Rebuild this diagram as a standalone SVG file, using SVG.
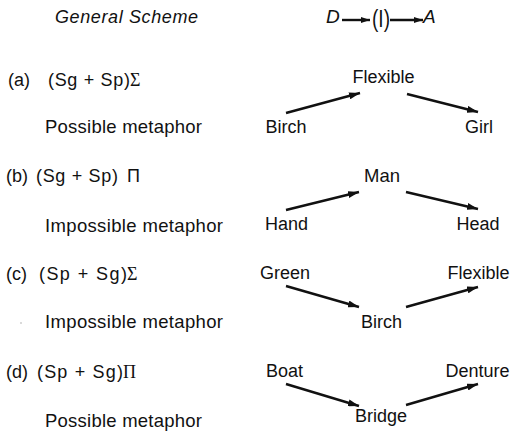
<svg xmlns="http://www.w3.org/2000/svg" width="513" height="431" viewBox="0 0 513 431">
<style>
text{font-family:"Liberation Sans",Arial,sans-serif;font-size:18px;fill:#111}
.it{font-style:italic}
.mid{text-anchor:middle}
.ser{font-family:"Liberation Serif","Times New Roman",serif}
.lab{font-size:18.5px}
.arr{stroke:#111;stroke-width:2.4;fill:none}
.harr{stroke:#111;stroke-width:2.4;fill:none}
</style>
<defs>
<marker id="ah" viewBox="0 0 11 7" refX="11" refY="3.5" markerWidth="11" markerHeight="7" markerUnits="userSpaceOnUse" orient="auto">
<path d="M0,0 L11,3.5 L0,7 z" fill="#111"/>
</marker>
<marker id="hh" viewBox="0 0 9 6" refX="9" refY="3" markerWidth="9" markerHeight="6" markerUnits="userSpaceOnUse" orient="auto">
<path d="M0,0 L9,3 L0,6 z" fill="#111"/>
</marker>
</defs>
<rect width="513" height="431" fill="#fff"/>

<g id="header">
<text class="it" x="55" y="23" textLength="143" lengthAdjust="spacing">General Scheme</text>
<text class="it" x="326" y="23" style="font-size:19px">D</text>
<text x="372" y="27" style="font-size:23px" textLength="18" lengthAdjust="spacingAndGlyphs">(I)</text>
<text class="it" x="423" y="23" style="font-size:19px">A</text>
</g>

<g id="labels">
<text x="8" y="86">(a)</text>
<text x="48" y="86" textLength="82" lengthAdjust="spacing">(Sg + Sp)</text>
<text class="ser" x="130" y="86">Σ</text>
<text class="lab" x="45" y="133" textLength="157" lengthAdjust="spacing">Possible metaphor</text>

<text x="6" y="182">(b)</text>
<text x="36" y="182" textLength="82" lengthAdjust="spacing">(Sg + Sp)</text>
<text x="127" y="182">Π</text>
<text class="lab" x="45" y="232" textLength="178" lengthAdjust="spacing">Impossible metaphor</text>

<text x="6" y="280">(c)</text>
<text x="39" y="280" textLength="88" lengthAdjust="spacing">(Sp + Sg)</text>
<text class="ser" x="127" y="280">Σ</text>
<circle cx="21" cy="323" r="0.7" fill="#999"/>
<text class="lab" x="45" y="328" textLength="178" lengthAdjust="spacing">Impossible metaphor</text>

<text x="6" y="378">(d)</text>
<text x="37" y="378" textLength="86" lengthAdjust="spacing">(Sp + Sg)</text>
<text class="ser" x="123" y="378">Π</text>
<text class="lab" x="45" y="427" textLength="157" lengthAdjust="spacing">Possible metaphor</text>
</g>

<g id="n-a-flexible"><text class="mid" x="383.5" y="83">Flexible</text></g>
<g id="n-a-birch"><text class="mid" x="286" y="133">Birch</text></g>
<g id="n-a-girl"><text class="mid" x="479" y="133">Girl</text></g>

<g id="n-b-man"><text class="mid" x="382" y="182" style="font-size:18.5px">Man</text></g>
<g id="n-b-hand"><text class="mid" x="286.5" y="230">Hand</text></g>
<g id="n-b-head"><text class="mid" x="478" y="230">Head</text></g>

<g id="n-c-green"><text class="mid" x="285" y="279">Green</text></g>
<g id="n-c-flexible"><text class="mid" x="478.5" y="279">Flexible</text></g>
<g id="n-c-birch"><text class="mid" x="381.5" y="328">Birch</text></g>

<g id="n-d-boat"><text class="mid" x="284.5" y="377">Boat</text></g>
<g id="n-d-denture"><text class="mid" x="477.5" y="377">Denture</text></g>
<g id="n-d-bridge"><text class="mid" x="381" y="422">Bridge</text></g>

<g id="connectors">
<line class="harr" x1="342" y1="20" x2="370" y2="20" marker-end="url(#hh)"/>
<line class="harr" x1="390" y1="20" x2="423" y2="20" marker-end="url(#hh)"/>

<line class="arr" x1="286" y1="113" x2="360" y2="93" marker-end="url(#ah)"/>
<line class="arr" x1="407" y1="94" x2="478" y2="112" marker-end="url(#ah)"/>

<line class="arr" x1="286" y1="210" x2="359" y2="192" marker-end="url(#ah)"/>
<line class="arr" x1="406" y1="192" x2="478" y2="209" marker-end="url(#ah)"/>

<line class="arr" x1="286" y1="286" x2="359" y2="307" marker-end="url(#ah)"/>
<line class="arr" x1="406" y1="307" x2="478" y2="287" marker-end="url(#ah)"/>

<line class="arr" x1="286" y1="384" x2="359" y2="406" marker-end="url(#ah)"/>
<line class="arr" x1="406" y1="405" x2="478" y2="384" marker-end="url(#ah)"/>
</g>
</svg>
